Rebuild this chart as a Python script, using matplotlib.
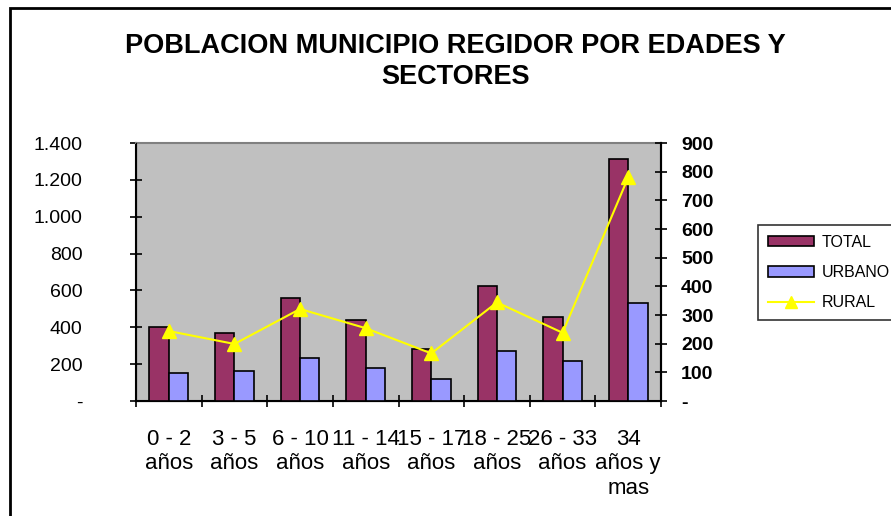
import matplotlib
matplotlib.use("Agg")
import matplotlib.pyplot as plt
import numpy as np
from matplotlib.ticker import FuncFormatter, FixedLocator
from matplotlib.patches import Rectangle
from matplotlib.lines import Line2D

categories = ["0 - 2\naños", "3 - 5\naños", "6 - 10\naños", "11 - 14\naños",
              "15 - 17\naños", "18 - 25\naños", "26 - 33\naños", "34\naños y\nmas"]
total = [400, 369, 560, 438, 283, 622, 456, 1315]
urbano = [153, 164, 231, 178, 119, 274, 216, 533]
rural = [244, 199, 321, 254, 166, 344, 238, 780]
left_ticks = [0, 200, 400, 600, 800, 1000, 1200, 1400]
right_ticks = [0, 100, 200, 300, 400, 500, 600, 700, 800, 900]
title = "POBLACION MUNICIPIO REGIDOR POR EDADES Y\nSECTORES"

plt.rcParams['font.family'] = ['Liberation Sans', 'DejaVu Sans']

W, H = 891, 516
fig = plt.figure(figsize=(W / 100, H / 100), dpi=100)

# outer chart border
fig.patches.append(Rectangle((10 / W, -0.05), 1.2, 1 - 7.5 / H + 0.05,
                             transform=fig.transFigure, fill=False,
                             edgecolor='black', linewidth=2))

l, r, t, b = 136, 661, 143, 401
ax = fig.add_axes([l / W, 1 - b / H, (r - l) / W, (b - t) / H])
ax.set_facecolor('#C0C0C0')

x = np.arange(len(categories))
bw = 0.295
ax.bar(x - bw / 2, total, width=bw, color='#993366', edgecolor='black', linewidth=1.2, zorder=3)
ax.bar(x + bw / 2, urbano, width=bw, color='#9999FF', edgecolor='black', linewidth=1.2, zorder=3)
ax.set_xlim(-0.5, len(categories) - 0.5)
ax.set_ylim(0, 1400)
ax.set_yticks(left_ticks)

def lfmt(v, p):
    if v == 0:
        return '-'
    return f"{int(v):,}".replace(',', '.')

def rfmt(v, p):
    if v == 0:
        return '-'
    return f"{int(v)}"

ax.yaxis.set_major_formatter(FuncFormatter(lfmt))
ax.xaxis.set_major_locator(FixedLocator(np.arange(-0.5, len(categories), 1.0)))
ax.xaxis.set_major_formatter(FuncFormatter(lambda v, p: ''))
ax.set_xticks(x, minor=True)
ax.set_xticklabels(categories, minor=True, fontsize=16, linespacing=1.22, va='top')
ax.tick_params(axis='x', which='minor', length=0, pad=20)
ax.tick_params(axis='x', which='major', direction='inout', length=9, width=1.2)
ax.tick_params(axis='y', direction='inout', length=9, width=1.2, labelsize=14, pad=34)

for s in ['left', 'bottom', 'right']:
    ax.spines[s].set_color('black')
    ax.spines[s].set_linewidth(1.5)
ax.spines['top'].set_color('#808080')
ax.spines['top'].set_linewidth(1.5)

ax2 = ax.twinx()
ax2.plot(x, rural, color='#FFFF00', marker='^', markersize=10, linewidth=1.5, zorder=4)
ax2.set_ylim(0, 900)
ax2.set_yticks(right_ticks)
ax2.yaxis.set_major_formatter(FuncFormatter(rfmt))
ax2.tick_params(axis='y', direction='inout', length=9, width=1.2, labelsize=14, pad=10)
for lab in ax2.get_yticklabels():
    lab.set_fontweight('bold')
ax2.spines['right'].set_color('black')
ax2.spines['right'].set_linewidth(1.5)
ax2.spines['top'].set_visible(False)

fig.text(455 / W, 1 - 61.5 / H, title, ha='center', va='center', fontsize=19.5,
         fontweight='bold', linespacing=1.28)

handles = [Rectangle((0, 0), 1, 1, facecolor='#993366', edgecolor='black', linewidth=1.2),
           Rectangle((0, 0), 1, 1, facecolor='#9999FF', edgecolor='black', linewidth=1.2),
           Line2D([], [], color='#FFFF00', marker='^', markersize=9, linewidth=1.5)]
leg = fig.legend(handles, ['TOTAL', 'URBANO', 'RURAL'], loc='upper left',
                 bbox_to_anchor=(758 / W, 1 - 225 / H), fontsize=11.5,
                 frameon=True, fancybox=False, edgecolor='black', borderpad=0.62,
                 handlelength=2.9, handleheight=0.6, handletextpad=0.45,
                 labelspacing=0.95, borderaxespad=0)
leg.get_frame().set_linewidth(1.2)

fig.savefig('out.png', dpi=100)
